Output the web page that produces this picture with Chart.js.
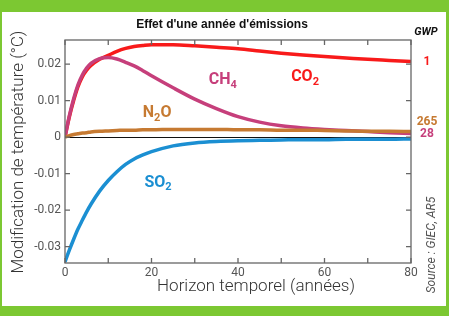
<!DOCTYPE html>
<html>
<head>
<meta charset="utf-8">
<script src="https://cdn.jsdelivr.net/npm/chart.js@4.4.1/dist/chart.umd.min.js"></script>
<style>
  html, body { margin: 0; padding: 0; background: #7cc832; }
  #wrap { position: relative; width: 449px; height: 316px; }
</style>
</head>
<body>
<div id="wrap"><canvas id="effet"></canvas></div>
<script>
// années (horizon temporel)
const annees = [0, 1, 2, 3, 4, 5, 6, 8, 10, 12, 14, 16, 18, 20, 25, 30, 35, 40, 45, 50, 55, 60, 65, 70, 75, 80];

// modification de température (°C)
const co2 = [0, 0.0055, 0.0100, 0.0138, 0.0165, 0.0183, 0.0196, 0.0213, 0.0224, 0.0235, 0.0243, 0.0248, 0.0251, 0.0253, 0.0253, 0.0250, 0.0246, 0.0242, 0.0236, 0.0230, 0.0225, 0.0221, 0.0217, 0.0213, 0.0210, 0.0207];
const ch4 = [0, 0.0058, 0.0105, 0.0143, 0.0170, 0.0189, 0.0202, 0.0215, 0.0218, 0.0214, 0.0205, 0.0195, 0.0182, 0.0168, 0.0135, 0.0104, 0.0078, 0.0056, 0.0041, 0.0031, 0.0025, 0.0021, 0.0018, 0.0015, 0.0012, 0.0010];
const n2o = [0, 0.0004, 0.0007, 0.0009, 0.0011, 0.0012, 0.0014, 0.0016, 0.0017, 0.0018, 0.0019, 0.0019, 0.0020, 0.0020, 0.0021, 0.0021, 0.0021, 0.0020, 0.0020, 0.0019, 0.0019, 0.0018, 0.0017, 0.0016, 0.0016, 0.0015];
const so2 = [-0.0342, -0.0310, -0.0280, -0.0252, -0.0228, -0.0205, -0.0184, -0.0148, -0.0119, -0.0095, -0.0075, -0.0060, -0.0049, -0.0040, -0.0024, -0.0016, -0.0012, -0.0010, -0.0009, -0.0008, -0.0007, -0.0007, -0.0006, -0.0006, -0.0006, -0.0005];

// GWP (potentiel de réchauffement global)
const gwp = ["1", "265", "28"];

const ROUGE = "#f81a1a", ROSE = "#c63f7b", BRUN = "#c67a32", BLEU = "#1b8fd2";

function serie(label, data, color) {
  return {
    label: label,
    data: annees.map((a, i) => ({ x: a, y: data[i] })),
    borderColor: color,
    borderWidth: 3.5,
    pointRadius: 0,
    cubicInterpolationMode: "monotone",
    fill: false
  };
}

// formule avec indice (CO2, CH4, N2O...)
function chimie(ctx, base, sub, suite, x, y, color) {
  const big = "bold 16px Roboto", small = "bold 11px Roboto";
  ctx.fillStyle = color;
  ctx.textAlign = "left";
  ctx.textBaseline = "middle";
  ctx.font = big;
  const w1 = ctx.measureText(base).width, w3 = ctx.measureText(suite).width;
  ctx.font = small;
  const w2 = ctx.measureText(sub).width;
  const x0 = x - (w1 + w2 + w3) / 2;
  ctx.font = big;
  ctx.fillText(base, x0, y);
  ctx.fillText(suite, x0 + w1 + w2, y);
  ctx.font = small;
  ctx.fillText(sub, x0 + w1, y + 5);
}

const decor = {
  id: "decor",
  beforeDraw(chart) {
    const c = chart.ctx;
    c.save();
    c.fillStyle = "#7cc832";
    c.fillRect(0, 0, chart.width, chart.height);
    c.fillStyle = "#ffffff";
    c.fillRect(2, 12, 444, 294);
    c.restore();
  },
  beforeDatasetsDraw(chart) {
    const c = chart.ctx, a = chart.chartArea, y = chart.scales.y;
    c.save();
    c.strokeStyle = "#111";
    c.lineWidth = 1;
    const y0 = Math.round(y.getPixelForValue(0)) + 0.5;
    c.beginPath(); c.moveTo(a.left, y0); c.lineTo(a.right, y0); c.stroke();
    c.restore();
  },
  afterDraw(chart) {
    const c = chart.ctx, a = chart.chartArea, xs = chart.scales.x, ys = chart.scales.y;
    c.save();
    // cadre
    c.strokeStyle = "#666";
    c.lineWidth = 1.3;
    c.strokeRect(a.left, a.top, a.right - a.left, a.bottom - a.top);
    // graduations intérieures
    c.beginPath();
    xs.ticks.forEach(t => {
      const px = xs.getPixelForValue(t.value);
      c.moveTo(px, a.bottom); c.lineTo(px, a.bottom - 5);
      c.moveTo(px, a.top); c.lineTo(px, a.top + 5);
    });
    ys.ticks.forEach(t => {
      const py = ys.getPixelForValue(t.value);
      c.moveTo(a.left, py); c.lineTo(a.left + 5, py);
      c.moveTo(a.right, py); c.lineTo(a.right - 5, py);
    });
    c.stroke();

    // titre
    c.fillStyle = "#111";
    c.font = "bold 12px 'Liberation Sans'";
    c.textAlign = "center";
    c.textBaseline = "middle";
    c.fillText("Effet d'une année d'émissions", 222, 25);

    // titres des axes
    c.fillStyle = "#333";
    c.font = "300 17px Roboto";
    c.fillText("Horizon temporel (années)", 256, 287);
    c.save();
    c.translate(19, 152);
    c.rotate(-Math.PI / 2);
    c.fillText("Modification de température (°C)", 0, 0);
    c.restore();

    // source
    c.save();
    c.fillStyle = "#555";
    c.font = "italic 12px Roboto";
    c.translate(432, 245);
    c.rotate(-Math.PI / 2);
    c.fillText("Source : GIEC, AR5", 0, 0);
    c.restore();

    // GWP
    c.fillStyle = "#111";
    c.font = "italic bold 11px Roboto";
    c.fillText("GWP", 426, 32);
    c.font = "bold 12px Roboto";
    c.fillStyle = ROUGE; c.fillText(gwp[0], 427, 62);
    c.fillStyle = BRUN;  c.fillText(gwp[1], 427, 122);
    c.fillStyle = ROSE;  c.fillText(gwp[2], 427, 134);

    // étiquettes des gaz, placées en coordonnées de données
    chimie(c, "CH", "4", "", xs.getPixelForValue(36.5), ys.getPixelForValue(0.0157), ROSE);
    chimie(c, "CO", "2", "", xs.getPixelForValue(55.5), ys.getPixelForValue(0.0165), ROUGE);
    chimie(c, "N", "2", "O", xs.getPixelForValue(21.3), ys.getPixelForValue(0.0066), BRUN);
    chimie(c, "SO", "2", "", xs.getPixelForValue(21.5), ys.getPixelForValue(-0.0125), BLEU);
    c.restore();
  }
};

new Chart(document.getElementById("effet"), {
  type: "line",
  data: {
    datasets: [
      serie("N2O", n2o, BRUN),
      serie("SO2", so2, BLEU),
      serie("CH4", ch4, ROSE),
      serie("CO2", co2, ROUGE)
    ]
  },
  options: {
    responsive: true,
    maintainAspectRatio: false,
    animation: false,
    layout: { padding: { top: 40, right: 38, left: 0, bottom: 0 } },
    plugins: { legend: { display: false }, tooltip: { enabled: false }, title: { display: false } },
    scales: {
      x: {
        type: "linear",
        min: 0,
        max: 80,
        grid: { display: false, drawTicks: false },
        border: { display: false },
        ticks: {
          stepSize: 10,
          autoSkip: false,
          maxRotation: 0,
          padding: 3,
          color: "#555",
          font: { family: "Roboto", size: 12 },
          callback: v => (v % 20 === 0 ? String(v) : "")
        },
        afterFit: s => { s.height = 53; }
      },
      y: {
        min: -0.0345,
        max: 0.0266,
        grid: { display: false, drawTicks: false },
        border: { display: false },
        ticks: {
          stepSize: 0.01,
          includeBounds: false,
          padding: 4,
          color: "#555",
          font: { family: "Roboto", size: 12 },
          callback: v => (Math.abs(v) < 1e-9 ? "0" : v.toFixed(2))
        },
        afterFit: s => { s.width = 65; }
      }
    }
  },
  plugins: [decor]
});
</script>
</body>
</html>
